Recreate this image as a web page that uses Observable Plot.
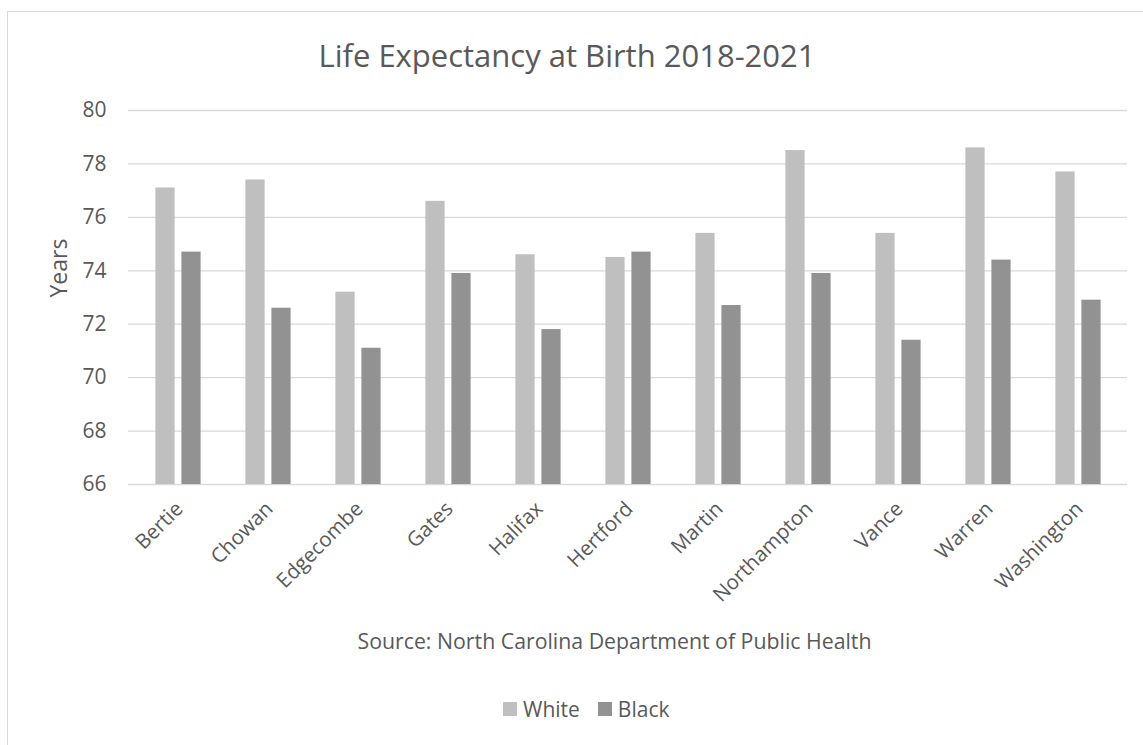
<!DOCTYPE html>
<html>
<head>
<meta charset="utf-8">
<script src="https://cdn.jsdelivr.net/npm/d3@7"></script>
<script src="https://cdn.jsdelivr.net/npm/@observablehq/plot@0.6"></script>
<style>
  html, body { margin: 0; padding: 0; background: #fff; }
  body { width: 1143px; height: 745px; overflow: hidden; position: relative; font-family: "Open Sans", sans-serif; color: #595959; }
  #frame { position: absolute; left: 7px; top: 11px; width: 1200px; height: 800px; border: 1px solid #d9d9d9; box-sizing: border-box; }
  #title { position: absolute; left: 0; width: 1134px; top: 35px; text-align: center; font-size: 31px; line-height: 40px; white-space: nowrap; }
  #chart { position: absolute; left: 0; top: 0; }
  #caption { position: absolute; left: 0; width: 1229px; top: 625px; text-align: center; font-size: 21.3px; line-height: 32px; white-space: nowrap; }
  #legend { position: absolute; left: 503px; top: 695px; height: 28px; font-size: 21px; line-height: 28px; white-space: nowrap; display: flex; align-items: center; }
  .sw { display: inline-block; width: 14px; height: 14px; margin-right: 6px; }
  .item { display: inline-flex; align-items: center; margin-right: 18px; }
</style>
</head>
<body>
<div id="frame"></div>
<div id="title"></div>
<div id="chart"></div>
<div id="caption"></div>
<div id="legend"></div>
<script>
const titleText = "Life Expectancy at Birth 2018-2021";
const captionText = "Source: North Carolina Department of Public Health";
const yLabel = "Years";
const counties = ["Bertie", "Chowan", "Edgecombe", "Gates", "Halifax", "Hertford", "Martin", "Northampton", "Vance", "Warren", "Washington"];
const white = [77.1, 77.4, 73.2, 76.6, 74.6, 74.5, 75.4, 78.5, 75.4, 78.6, 77.7];
const black = [74.7, 72.6, 71.1, 73.9, 71.8, 74.7, 72.7, 73.9, 71.4, 74.4, 72.9];
const series = ["White", "Black"];
const colors = ["#bfbfbf", "#929292"];
const yTicks = [66, 68, 70, 72, 74, 76, 78, 80];

const whiteData = counties.map((c, i) => ({county: c, value: white[i]}));
const blackData = counties.map((c, i) => ({county: c, value: black[i]}));
const yMin = yTicks[0];

document.getElementById("title").textContent = titleText;
document.getElementById("caption").textContent = captionText;

const textColor = "#595959";
const chart = Plot.plot({
  width: 1143,
  height: 560,
  marginTop: 110,
  marginBottom: 76,
  marginLeft: 128,
  marginRight: 16,
  style: {fontFamily: "Open Sans", fontSize: "20px", color: textColor, background: "transparent", overflow: "visible"},
  x: {type: "band", domain: counties, padding: 0, axis: null},
  y: {domain: [yTicks[0], yTicks[yTicks.length - 1]], axis: null},
  marks: [
    Plot.ruleY(yTicks, {y: d => d, stroke: "#d9d9d9", strokeWidth: 1.3}),
    Plot.barY(whiteData, {x: "county", y1: yMin, y2: "value", fill: colors[0], dx: -13, insetLeft: 35.4, insetRight: 35.4}),
    Plot.barY(blackData, {x: "county", y1: yMin, y2: "value", fill: colors[1], dx: 13, insetLeft: 35.4, insetRight: 35.4}),
    Plot.axisY(yTicks, {tickSize: 0, tickPadding: 22, fontSize: 21, fill: textColor, label: null}),
    Plot.text(counties, {x: d => d, frameAnchor: "bottom", dy: 21, dx: 1, rotate: -45, textAnchor: "end", lineAnchor: "middle", fontSize: 20.5, fill: textColor}),
    Plot.text([yLabel], {frameAnchor: "left", dx: -69, rotate: -90, fontSize: 23, fill: textColor})
  ]
});
document.getElementById("chart").appendChild(chart);

const legend = document.getElementById("legend");
series.forEach((s, i) => {
  const item = document.createElement("span");
  item.className = "item";
  const sw = document.createElement("span");
  sw.className = "sw";
  sw.style.background = colors[i];
  item.appendChild(sw);
  item.appendChild(document.createTextNode(s));
  legend.appendChild(item);
});
</script>
</body>
</html>
